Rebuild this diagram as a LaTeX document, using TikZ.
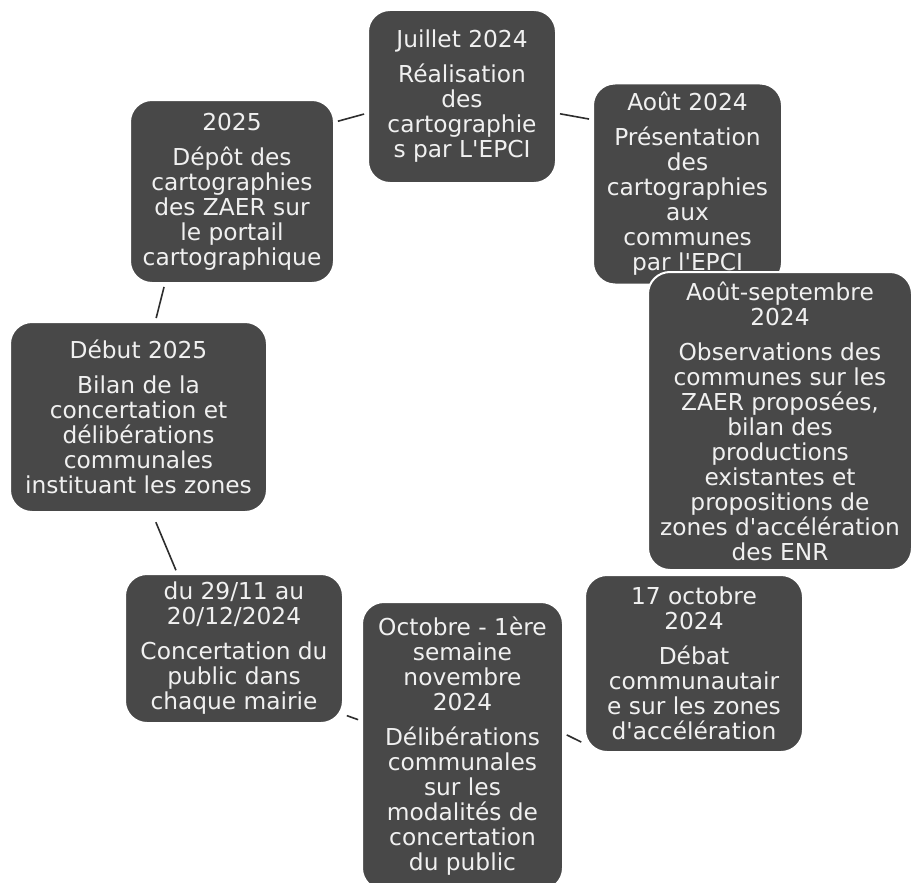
\documentclass[tikz,border=0pt]{standalone}
\usepackage{fontspec}
\newfontfamily\boxfont{DejaVu Sans}
\definecolor{boxgray}{RGB}{72,72,72}
\definecolor{linegray}{RGB}{45,45,45}
\tikzset{
  stagebox/.style={rounded corners=22pt, fill=boxgray, draw=white, line width=2pt,
    text=white!94!black, align=center, inner sep=0pt,
    font=\boxfont\fontsize{23.3}{25}\selectfont},
  conn/.style={draw=linegray, line width=1.6pt, shorten <=3pt, shorten >=3pt}
}
\begin{document}
\begin{tikzpicture}[x=1pt,y=-1pt]
\useasboundingbox (0,0) rectangle (913,883);
\node[stagebox, minimum width=188pt, minimum height=173pt] (n1) at (462,96.5)
  {Juillet 2024\\[10pt]Réalisation\\des\\cartographie\\s par L'EPCI};
\node[stagebox, minimum width=189pt, minimum height=201pt] (n2) at (687.5,184)
  {Août 2024\\[10pt]Présentation\\des\\cartographies\\aux\\communes\\par l'EPCI};
\node[stagebox, minimum width=264pt, minimum height=298pt] (n3) at (780,421)
  {Août-septembre\\2024\\[10pt]Observations des\\communes sur les\\ZAER proposées,\\bilan des\\productions\\existantes et\\propositions de\\zones d'accélération\\des ENR};
\node[stagebox, minimum width=218pt, minimum height=177pt] (n4) at (694,663.5)
  {17 octobre\\2024\\[10pt]Débat\\communautair\\e sur les zones\\d'accélération};
\node[stagebox, minimum width=201pt, minimum height=288pt] (n5) at (462.5,746)
  {Octobre - 1ère\\semaine\\novembre\\2024\\[10pt]Délibérations\\communales\\sur les\\modalités de\\concertation\\du public};
\node[stagebox, minimum width=218pt, minimum height=149pt] (n6) at (234,648.5)
  {du 29/11 au\\20/12/2024\\[10pt]Concertation du\\public dans\\chaque mairie};
\node[stagebox, minimum width=257pt, minimum height=190pt] (n7) at (138.5,417)
  {Début 2025\\[10pt]Bilan de la\\concertation et\\délibérations\\communales\\instituant les zones};
\node[stagebox, minimum width=204pt, minimum height=183pt] (n8) at (232,191.5)
  {2025\\[10pt]Dépôt des\\cartographies\\des ZAER sur\\le portail\\cartographique};
\draw[conn] (n8.34) -- (n1.190);
\draw[conn] (n1.350.6) -- (n2.146);
\draw[conn] (n8.234.6) -- (n7.80);
\draw[conn, shorten <=10pt] (n7.278.7) -- (n6.127.4);
\draw[conn] (n6.329.8) -- (n5.166.6);
\draw[conn] (n5.7.4) -- (n4.216.8);
\end{tikzpicture}
\end{document}
